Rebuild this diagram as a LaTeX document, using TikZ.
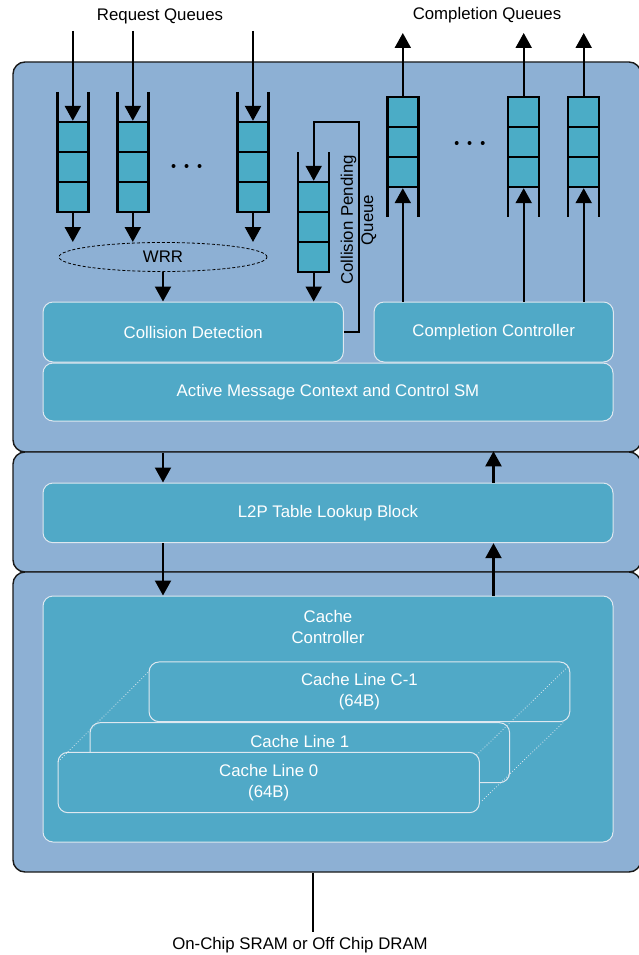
\documentclass[tikz,border=0pt]{standalone}
\usepackage{fontspec}
\setmainfont{Liberation Sans}
\usetikzlibrary{arrows.meta,shapes.geometric}

\definecolor{panelc}{RGB}{141,176,212}
\definecolor{boxc}{RGB}{80,169,199}
\definecolor{cellc}{RGB}{75,172,198}
\definecolor{boxline}{RGB}{222,232,240}

\newcommand{\lblfont}{\fontsize{16.8}{20.4}\selectfont}

\tikzset{
  panel/.style={rectangle, draw=black!90, line width=1.4pt, fill=panelc,
    rounded corners=12pt, inner sep=0pt},
  blk/.style={rectangle, draw=boxline, line width=1pt, fill=boxc,
    rounded corners=10pt, inner sep=0pt, text=white, font=\lblfont, align=center},
  cell/.style={rectangle, draw=black, line width=2.4pt, fill=cellc,
    minimum width=31pt, minimum height=30pt, inner sep=0pt},
  wall/.style={line width=2.4pt},
  flow/.style={line width=2.2pt, -{Triangle[length=15pt,width=16pt]}},
  lbl/.style={font=\lblfont, inner sep=0pt, align=center},
  wlbl/.style={lbl, text=white},
  dotmark/.style={circle, fill=black, inner sep=0pt, minimum size=4pt},
  depth/.style={draw=boxline, line width=0.8pt, dotted},
}

\begin{document}
\begin{tikzpicture}[x=1pt,y=-1pt]
\useasboundingbox (0,0) rectangle (638,955);

% three stacked panels
\node[panel, minimum width=628pt, minimum height=390pt] (p1) at (327,257) {};
\node[panel, minimum width=628pt, minimum height=120pt] (p2) at (327,512) {};
\node[panel, minimum width=628pt, minimum height=300pt] (p3) at (327,722) {};

% top labels
\node[lbl] (reqlbl) at (160,16) {Request Queues};
\node[lbl] (cmplbl) at (487,15) {Completion Queues};

% functional blocks of the top panel
\node[blk, minimum width=300.3pt, minimum height=60pt] (coll) at (193.2,332) {Collision Detection};
\node[blk, minimum width=239.3pt, minimum height=60pt] (compc) at (493.7,332) {Completion Controller};
\node[blk, minimum width=570pt, minimum height=58pt] (amc) at (328,392) {Active Message Context and Control SM};

% weighted round robin arbiter
\node[draw, dashed, dash pattern=on 3pt off 2pt, line width=0.8pt, ellipse,
      minimum width=208pt, minimum height=29pt, inner sep=0pt, font=\lblfont] (wrr) at (163,257) {WRR};
\draw[flow] (wrr.south) -- (wrr.south |- coll.north);

% request queues
\foreach \n/\x in {1/72.8, 2/132.8, 3/253} {
  \draw[wall] (\x-15.5,92) -- (\x-15.5,212) (\x+15.5,92) -- (\x+15.5,212);
  \node[cell] (rqa\n) at (\x,137) {};
  \node[cell] (rqb\n) at (\x,167) {};
  \node[cell] (rqc\n) at (\x,197) {};
  \coordinate (rqin\n) at (\x,31);
  \coordinate (rqout\n) at (\x,242);
  \draw[flow] (rqin\n) -- (rqa\n.north);
  \draw[flow] (rqc\n.south) -- (rqout\n);
}
\node[dotmark] (rd1) at (173.5,166) {};
\node[dotmark] (rd2) at (186.5,166) {};
\node[dotmark] (rd3) at (199.5,166) {};

% collision pending queue
\draw[wall] (298.2,152) -- (298.2,272) (329.2,152) -- (329.2,272);
\node[cell] (pqa) at (313.7,197) {};
\node[cell] (pqb) at (313.7,227) {};
\node[cell] (pqc) at (313.7,257) {};
\draw[flow] (pqc.south) -- (pqc.south |- coll.north);
\coordinate (fbtop) at (359,121.7);
\draw[flow, line width=2pt] (coll.east) -| (fbtop) -| (pqa.north);
\node[lbl, rotate=90] (pqlbl) at (358.5,220) {Collision Pending\\Queue};

% completion queues
\foreach \n/\x in {1/402.8, 2/523.7, 3/583.7} {
  \draw[wall] (\x-15.5,97) -- (\x-15.5,217) (\x+15.5,97) -- (\x+15.5,217);
  \node[cell] (cqa\n) at (\x,112) {};
  \node[cell] (cqb\n) at (\x,142) {};
  \node[cell] (cqc\n) at (\x,172) {};
  \coordinate (cqout\n) at (\x,33);
  \draw[flow] (cqa\n.north) -- (cqout\n);
  \draw[flow] (cqc\n.south |- compc.north) -- (cqc\n.south);
}
\node[dotmark] (cd1) at (456.7,143) {};
\node[dotmark] (cd2) at (469.5,143) {};
\node[dotmark] (cd3) at (482.7,143) {};

% address translation panel
\node[blk, minimum width=570pt, minimum height=59.7pt] (l2p) at (328,512.85) {L2P Table Lookup Block};

% cache panel
\node[blk, minimum width=570pt, minimum height=246pt] (cache) at (328,719) {};
\node[wlbl] (cachelbl) at (328,627) {Cache\\Controller};
\node[blk, minimum width=420.7pt, minimum height=59.7pt] (clc) at (359.4,691.8) {Cache Line C-1\\(64B)};
\node[blk, minimum width=419.5pt, minimum height=60pt] (cl1) at (299.8,752.7) {};
\node[wlbl] (cl1lbl) at (299.8,741) {Cache Line 1};
\node[blk, minimum width=421.4pt, minimum height=60.4pt] (cl0) at (268.7,782.5) {Cache Line 0\\(64B)};

% depth edges of the cache line stack
\coordinate (dla) at (58,761.7);
\coordinate (dlb) at (149,671.4);
\coordinate (dra) at (476.6,755);
\coordinate (drb) at (568.6,666);
\coordinate (dba) at (482,800.7);
\coordinate (dbb) at (563,722.7);
\draw[depth] (dla) -- (dlb);
\draw[depth] (dra) -- (drb);
\draw[depth] (dba) -- (dbb);

% vertical data paths between panels
\coordinate (dnx) at (163,0);
\coordinate (upx) at (493.5,0);
\draw[flow] (p1.south -| dnx) -- (l2p.north -| dnx);
\draw[flow] (l2p.north -| upx) -- (p2.north -| upx);
\draw[flow] (l2p.south -| dnx) -- (cache.north -| dnx);
\draw[flow] (cache.north -| upx) -- (l2p.south -| upx);

% memory interface
\coordinate (memend) at (313.3,931.7);
\draw[line width=2pt] (p3.south -| memend) -- (memend);
\node[lbl] (memlbl) at (300,945) {On-Chip SRAM or Off Chip DRAM};

\end{tikzpicture}
\end{document}
